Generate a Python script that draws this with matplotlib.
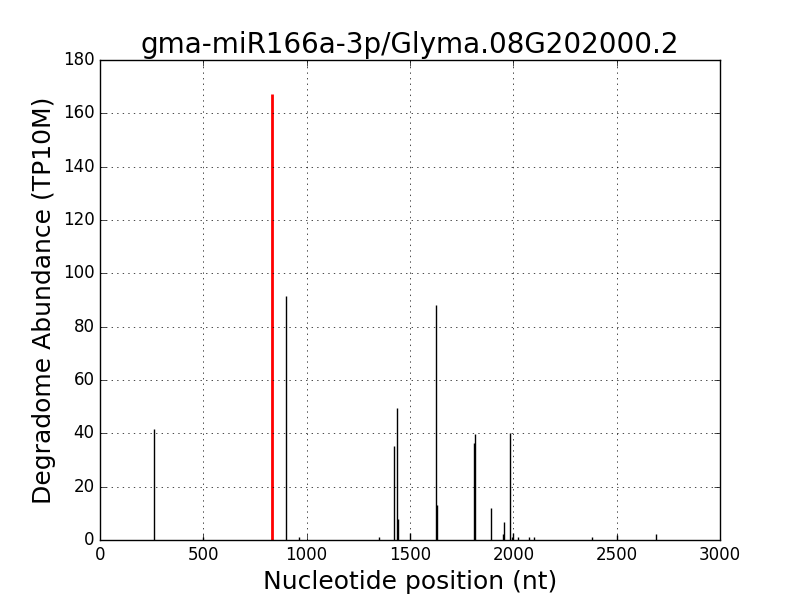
import matplotlib
matplotlib.use("Agg")
import matplotlib.pyplot as plt

# degradome peaks (position in nt, abundance in TP10M)
positions = [261, 500, 900, 965, 1351, 1424, 1439, 1441, 1501, 1627, 1632,
             1811, 1816, 1893, 1951, 1956, 1985, 1995, 2000, 2024, 2077,
             2101, 2382, 2503, 2692]
abundance = [41.6, 1.0, 91.5, 1.0, 1.0, 35.2, 49.4, 8.0, 2.6, 88.0, 13.0,
             36.5, 39.7, 12.0, 2.2, 6.7, 40.0, 1.0, 2.5, 1.0, 1.0,
             1.0, 1.2, 2.0, 2.4]

# the cleavage site of the miRNA
site_pos = 832
site_val = 167.3

plt.style.use('classic')
fig = plt.figure(figsize=(8, 6), dpi=100)
ax = fig.add_axes([0.125, 0.1, 0.775, 0.8])

ax.vlines(positions, 0, abundance, colors='black', linewidth=1)
ax.vlines([site_pos], 0, [site_val], colors='red', linewidth=2)

ax.set_xlim(0, 3000)
ax.set_ylim(0, 180)
ax.grid(True)
ax.set_title('gma-miR166a-3p/Glyma.08G202000.2', fontsize=20)
ax.set_xlabel('Nucleotide position (nt)', fontsize=18)
ax.set_ylabel('Degradome Abundance (TP10M)', fontsize=18)

fig.savefig('out.png', dpi=100)
